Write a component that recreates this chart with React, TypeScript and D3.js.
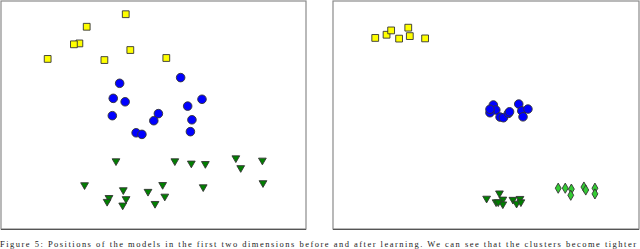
import React from "react";
import * as d3 from "d3";

// Two side-by-side scatter panels (projection before / after), caption below.
type Pt = [number, number];

const leftSquares: Pt[] = [
  [40.9, 94.2], [28.1, 88.7], [25.7, 81.4], [23.9, 81.0],
  [42.4, 78.5], [15.3, 74.6], [33.9, 74.1], [54.2, 75.0],
];
const leftCircles: Pt[] = [
  [38.9, 63.9], [58.9, 66.4], [36.8, 57.3], [40.7, 55.8], [65.9, 56.9],
  [61.2, 53.9], [36.5, 49.7], [51.6, 50.6], [50.1, 47.5], [62.6, 47.9],
  [44.3, 42.2], [46.2, 41.5], [62.1, 42.7],
];
const leftTriangles: Pt[] = [
  [37.7, 29.8], [57.0, 29.8], [62.4, 28.8], [67.0, 28.6], [77.0, 31.1],
  [78.6, 26.8], [85.7, 30.1], [27.4, 19.3], [40.1, 17.1], [48.2, 16.4],
  [53.0, 19.4], [66.3, 18.4], [85.9, 20.2], [35.4, 13.7], [34.8, 12.0],
  [41.0, 13.2], [39.9, 10.4], [53.7, 14.3], [50.5, 11.1],
];

const rightSquares: Pt[] = [
  [13.8, 83.8], [17.5, 85.2], [19.0, 87.1], [21.6, 83.5],
  [24.6, 88.3], [25.1, 84.6], [30.1, 83.6],
];
const rightCircles: Pt[] = [
  [52.4, 54.4], [53.2, 52.2], [51.3, 51.0], [51.3, 52.5], [54.6, 49.1],
  [55.7, 48.8], [57.3, 50.7], [57.7, 51.4], [60.7, 54.8], [61.7, 51.8],
  [63.7, 52.6], [62.1, 49.2],
];
const rightTriangles: Pt[] = [
  [50.2, 13.4], [54.4, 15.7], [53.3, 11.8], [55.5, 13.0], [55.5, 10.9],
  [54.0, 11.8], [58.8, 12.9], [60.0, 11.2], [61.1, 13.3], [61.4, 11.8],
];
const rightDiamonds: Pt[] = [
  [73.6, 17.9], [75.9, 17.9], [77.9, 17.5], [77.7, 14.8],
  [82.0, 18.4], [82.6, 17.1], [85.6, 17.9], [85.6, 15.4],
];

const caption =
  "Figure 5: Positions of the models in the first two dimensions before and after learning. We can see that the clusters become tighter";

const W = 640;
const H = 249;

const sq = d3.symbol(d3.symbolSquare, 46)();
const circ = d3.symbol(d3.symbolCircle, 58)();
const tri = d3.symbol(d3.symbolTriangle, 26)();
const dia = d3.symbol(d3.symbolDiamond, 30)();

interface Series {
  pts: Pt[];
  d: string | null;
  fill: string;
  rotate?: number;
}

function Panel({ x0, x1, series }: { x0: number; x1: number; series: Series[] }) {
  const x = d3.scaleLinear().domain([0, 100]).range([x0, x1]);
  const y = d3.scaleLinear().domain([0, 100]).range([229, 1]);
  return (
    <g>
      <rect x={x0} y={1} width={x1 - x0} height={228} fill="#fff" stroke="#8a8a8a" strokeWidth={1.2} />
      <line x1={x0} x2={x1} y1={229.5} y2={229.5} stroke="#555" strokeWidth={1.2} />
      {series.map((s, i) =>
        s.pts.map((p, j) => (
          <path
            key={`${i}-${j}`}
            d={s.d || ""}
            transform={`translate(${x(p[0])},${y(p[1])})${s.rotate ? ` rotate(${s.rotate})` : ""}`}
            fill={s.fill}
            stroke="#333"
            strokeWidth={0.9}
          />
        ))
      )}
    </g>
  );
}

export default function App() {
  return (
    <div style={{ position: "fixed", left: 0, top: 0 }}>
      <svg width={W} height={H} style={{ display: "block", background: "#fff" }}>
        <Panel
          x0={1}
          x1={306}
          series={[
            { pts: leftSquares, d: sq, fill: "#ffff00" },
            { pts: leftCircles, d: circ, fill: "#0000ff" },
            { pts: leftTriangles, d: tri, fill: "#008000", rotate: 180 },
          ]}
        />
        <Panel
          x0={333}
          x1={639}
          series={[
            { pts: rightSquares, d: sq, fill: "#ffff00" },
            { pts: rightCircles, d: circ, fill: "#0000ff" },
            { pts: rightTriangles, d: tri, fill: "#008000", rotate: 180 },
            { pts: rightDiamonds, d: dia, fill: "#33cc33" },
          ]}
        />
        <text
          x={0}
          y={246.5}
          fontFamily="'Liberation Serif', serif"
          fontSize={8.5}
          fill="#222"
          textLength={636}
          lengthAdjust="spacing"
        >
          {caption}
        </text>
      </svg>
    </div>
  );
}
